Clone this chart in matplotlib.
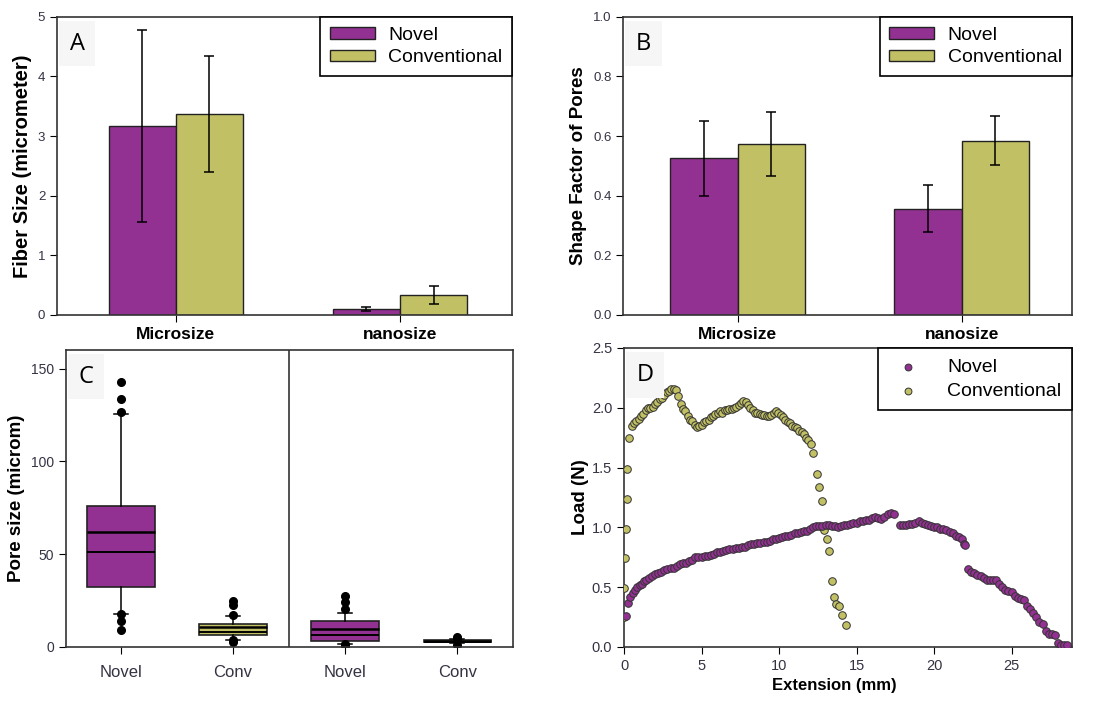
import matplotlib
matplotlib.use('Agg')
import matplotlib.pyplot as plt

#------------------------------------------------------------------------------
# data

groups = ['Microsize', 'nanosize']

fiber_novel     = [3.17, 0.10]
fiber_novel_err = [1.61, 0.04]
fiber_conv      = [3.37, 0.34]
fiber_conv_err  = [0.98, 0.15]

shape_novel     = [0.525, 0.357]
shape_novel_err = [0.125, 0.080]
shape_conv      = [0.573, 0.585]
shape_conv_err  = [0.108, 0.081]

box_labels = ['Novel', 'Conv', 'Novel', 'Conv']
box_q1     = [32.5, 6.5, 3.0, 2.6]
box_med    = [62.0, 10.8, 9.7, 3.2]
box_mean   = [51.0, 8.2, 6.6, 2.9]
box_q3     = [76.0, 12.5, 14.2, 3.5]
box_lo     = [17.6, 4.0, 1.6, 2.2]
box_hi     = [125.7, 16.5, 18.3, 4.2]
box_fliers = [[142.5, 133.8, 126.5, 17.6, 13.8, 9.3],
              [24.6, 22.5, 17.4, 3.5, 2.7],
              [27.5, 24.0, 20.5, 1.4, 0.6],
              [5.5, 4.6, 1.2]]

novel_x = [0.10, 0.25, 0.40, 0.55, 0.70, 0.85, 1.00, 1.15, 1.30, 1.45,
           1.60, 1.80, 2.00, 2.20, 2.40, 2.60, 2.80, 3.00, 3.20, 3.40,
           3.60, 3.80, 4.00, 4.20, 4.40, 4.60, 4.80, 5.00, 5.20, 5.40,
           5.60, 5.80, 6.00, 6.20, 6.40, 6.60, 6.80, 7.00, 7.20, 7.40,
           7.60, 7.80, 8.00, 8.20, 8.40, 8.60, 8.80, 9.00, 9.20, 9.40,
           9.60, 9.80, 10.0, 10.2, 10.4, 10.6, 10.8, 11.0, 11.2, 11.4,
           11.6, 11.8, 12.0, 12.2, 12.4, 12.6, 12.8, 13.0, 13.2, 13.4,
           13.6, 13.8, 14.0, 14.2, 14.4, 14.6, 14.8, 15.0, 15.2, 15.4,
           15.6, 15.8, 16.0, 16.2, 16.4, 16.6, 16.8, 17.0, 17.2, 17.4,
           17.8, 18.0, 18.2, 18.4, 18.6, 18.8, 19.0, 19.2, 19.4, 19.6,
           19.8, 20.0, 20.2, 20.4, 20.6, 20.8, 21.0, 21.2, 21.4, 21.6,
           21.8, 21.9, 22.0, 22.2, 22.4, 22.6, 22.8, 23.0, 23.2, 23.4,
           23.6, 23.8, 24.0, 24.2, 24.4, 24.6, 24.8, 25.0, 25.2, 25.4,
           25.6, 25.8, 26.0, 26.2, 26.4, 26.6, 26.8, 27.0, 27.2, 27.4,
           27.6, 27.8, 28.0, 28.2, 28.4, 28.6]
novel_y = [0.26, 0.37, 0.42, 0.45, 0.48, 0.50, 0.52, 0.53, 0.55, 0.56,
           0.58, 0.59, 0.61, 0.62, 0.63, 0.64, 0.65, 0.66, 0.66, 0.68,
           0.69, 0.70, 0.70, 0.72, 0.73, 0.75, 0.75, 0.75, 0.76, 0.76,
           0.77, 0.78, 0.79, 0.79, 0.80, 0.81, 0.82, 0.82, 0.83, 0.83,
           0.84, 0.84, 0.85, 0.86, 0.86, 0.87, 0.87, 0.88, 0.88, 0.89,
           0.90, 0.90, 0.91, 0.92, 0.93, 0.93, 0.94, 0.95, 0.95, 0.96,
           0.97, 0.97, 0.99, 1.00, 1.01, 1.01, 1.01, 1.02, 1.02, 1.01,
           1.01, 1.00, 1.01, 1.02, 1.02, 1.03, 1.04, 1.04, 1.05, 1.05,
           1.06, 1.06, 1.08, 1.09, 1.08, 1.07, 1.09, 1.11, 1.12, 1.11,
           1.02, 1.02, 1.02, 1.03, 1.03, 1.04, 1.05, 1.04, 1.03, 1.02,
           1.01, 1.00, 1.00, 0.99, 0.99, 0.98, 0.96, 0.95, 0.93, 0.92,
           0.90, 0.86, 0.85, 0.65, 0.63, 0.62, 0.60, 0.59, 0.58, 0.56,
           0.56, 0.56, 0.56, 0.53, 0.50, 0.48, 0.47, 0.46, 0.43, 0.41,
           0.40, 0.39, 0.34, 0.32, 0.28, 0.25, 0.21, 0.19, 0.13, 0.11,
           0.11, 0.10, 0.03, 0.02, 0.02, 0.02]

conv_x = [0.00, 0.03, 0.05, 0.10, 0.18, 0.22, 0.35, 0.50, 0.65, 0.80,
          0.95, 1.10, 1.25, 1.40, 1.55, 1.70, 1.85, 2.00, 2.15, 2.30,
          2.45, 2.60, 2.75, 2.90, 3.05, 3.20, 3.35, 3.50, 3.65, 3.80,
          3.95, 4.10, 4.25, 4.40, 4.55, 4.70, 4.85, 5.00, 5.15, 5.30,
          5.45, 5.60, 5.75, 5.90, 6.05, 6.20, 6.35, 6.50, 6.65, 6.80,
          6.95, 7.10, 7.25, 7.40, 7.55, 7.70, 7.85, 8.00, 8.15, 8.30,
          8.45, 8.60, 8.75, 8.90, 9.05, 9.20, 9.35, 9.50, 9.65, 9.80,
          9.95, 10.10, 10.25, 10.40, 10.55, 10.70, 10.85, 11.00, 11.15, 11.30,
          11.45, 11.60, 11.75, 11.90, 12.05, 12.20, 12.45, 12.60, 12.75, 12.90,
          13.10, 13.25, 13.40, 13.55, 13.70, 13.85, 14.05, 14.30]
conv_y = [0.25, 0.49, 0.74, 0.99, 1.24, 1.49, 1.75, 1.85, 1.87, 1.89,
          1.91, 1.93, 1.95, 1.98, 2.00, 2.00, 2.01, 2.03, 2.05, 2.07,
          2.08, 2.11, 2.13, 2.14, 2.16, 2.16, 2.15, 2.10, 2.03, 1.99,
          1.97, 1.93, 1.90, 1.89, 1.86, 1.84, 1.85, 1.86, 1.88, 1.89,
          1.90, 1.92, 1.93, 1.95, 1.96, 1.97, 1.96, 1.98, 1.98, 1.99,
          1.99, 2.00, 2.01, 2.02, 2.04, 2.06, 2.05, 2.02, 2.00, 1.98,
          1.96, 1.96, 1.95, 1.94, 1.94, 1.93, 1.93, 1.94, 1.96, 1.97,
          1.96, 1.94, 1.92, 1.90, 1.88, 1.87, 1.85, 1.84, 1.83, 1.81,
          1.80, 1.78, 1.75, 1.73, 1.70, 1.62, 1.45, 1.34, 1.22, 0.98,
          0.90, 0.80, 0.55, 0.42, 0.36, 0.34, 0.27, 0.18]

#------------------------------------------------------------------------------
# style

purple = '#933192'
olive  = '#c2c064'
tickc  = '#333344'

plt.rcParams['font.family'] = ['Liberation Sans', 'DejaVu Sans']
plt.rcParams['axes.linewidth'] = 1.2
plt.rcParams['axes.edgecolor'] = '#333333'


def panel_label(ax, letter):
    ax.text(0.028, 0.95, letter, transform=ax.transAxes, fontsize=17,
            family='Open Sans', va='top', ha='left', zorder=5,
            bbox=dict(boxstyle='square,pad=0.45', fc='#f6f6f6', ec='none'))


def bar_panel(ax, novel, novel_err, conv, conv_err, ylim, yticks, ylabel, ylsize):
    pos = range(len(groups))
    ekw = dict(elinewidth=1.1, capthick=1.1)
    ax.bar([p - 0.3 for p in pos], novel, width=0.3, align='edge', color=purple,
           edgecolor='#222222', linewidth=1.0, label='Novel')
    ax.bar(pos, conv, width=0.3, align='edge', color=olive,
           edgecolor='#222222', linewidth=1.0, label='Conventional')
    ax.errorbar([p - 0.15 for p in pos], novel, yerr=novel_err, fmt='none',
                ecolor='black', capsize=3.5, **ekw)
    ax.errorbar([p + 0.15 for p in pos], conv, yerr=conv_err, fmt='none',
                ecolor='black', capsize=3.5, **ekw)
    ax.set_xlim(-0.53, 1.5)
    ax.set_ylim(*ylim)
    ax.set_yticks(yticks)
    ax.set_xticks(list(pos))
    ax.set_xticklabels(groups, fontsize=12.5, fontweight='bold')
    ax.tick_params(axis='x', direction='out', length=5, pad=4)
    ax.tick_params(axis='y', direction='out', length=5, labelsize=9.5, labelcolor=tickc)
    ax.set_ylabel(ylabel, fontsize=ylsize, fontweight='bold', labelpad=4)
    leg = ax.legend(loc='upper right', bbox_to_anchor=(1.0, 1.0), borderaxespad=0,
                    fontsize=14, fancybox=False, edgecolor='black',
                    handlelength=2.3, handleheight=0.55, framealpha=1,
                    borderpad=0.5, labelspacing=0.3, handletextpad=0.7)
    leg.get_frame().set_linewidth(1.2)


fig = plt.figure(figsize=(11.07, 7.03), dpi=100)

#------------------------------------------------------------------------------
# A

axA = fig.add_axes([0.0515, 0.552, 0.411, 0.424])
bar_panel(axA, fiber_novel, fiber_novel_err, fiber_conv, fiber_conv_err,
          (0, 5), [0, 1, 2, 3, 4, 5], 'Fiber Size (micrometer)', 14.5)
panel_label(axA, 'A')

#------------------------------------------------------------------------------
# B

axB = fig.add_axes([0.563, 0.552, 0.405, 0.424])
bar_panel(axB, shape_novel, shape_novel_err, shape_conv, shape_conv_err,
          (0, 1), [0, 0.2, 0.4, 0.6, 0.8, 1.0], 'Shape Factor of Pores', 13.5)
axB.set_xlim(-0.51, 1.49)
axB.set_yticklabels(['0.0', '0.2', '0.4', '0.6', '0.8', '1.0'])
panel_label(axB, 'B')

#------------------------------------------------------------------------------
# C

axC = fig.add_axes([0.0596, 0.0797, 0.404, 0.4225])
stats = []
for i in range(len(box_labels)):
    stats.append(dict(label=box_labels[i], q1=box_q1[i], med=box_med[i], mean=box_mean[i],
                      q3=box_q3[i], whislo=box_lo[i], whishi=box_hi[i],
                      fliers=box_fliers[i]))
bp = axC.bxp(stats, positions=[0, 1, 2, 3], widths=0.6, patch_artist=True,
             showmeans=True, meanline=True, capwidths=0.12,
             boxprops=dict(edgecolor='#222222', linewidth=1.2),
             medianprops=dict(color='black', linewidth=1.8),
             meanprops=dict(color='black', linewidth=1.4, linestyle='-'),
             whiskerprops=dict(color='black', linewidth=1.1),
             capprops=dict(color='black', linewidth=1.1),
             flierprops=dict(marker='o', markerfacecolor='black',
                             markeredgecolor='black', markersize=5.5))
for patch, c in zip(bp['boxes'], [purple, olive, purple, olive]):
    patch.set_facecolor(c)
axC.axvline(1.5, color='#222222', linewidth=1.1)
axC.set_xlim(-0.49, 3.5)
axC.set_ylim(0, 160)
axC.set_yticks([0, 50, 100, 150])
axC.tick_params(axis='x', direction='out', length=5, labelsize=12, labelcolor=tickc, pad=8)
axC.tick_params(axis='y', direction='out', length=5, labelsize=10, labelcolor=tickc)
axC.set_ylabel('Pore size (microm)', fontsize=13.5, fontweight='bold')
panel_label(axC, 'C')

#------------------------------------------------------------------------------
# D

axD = fig.add_axes([0.5637, 0.0797, 0.4047, 0.4253])
axD.scatter(conv_x, conv_y, s=30, color=olive, edgecolor='#333333', linewidth=0.7,
            label='Conventional', zorder=3)
axD.scatter(novel_x, novel_y, s=30, color=purple, edgecolor='#333333', linewidth=0.7,
            label='Novel', zorder=3)
axD.set_xlim(0, 28.9)
axD.set_ylim(0, 2.5)
axD.set_xticks([0, 5, 10, 15, 20, 25])
axD.set_yticks([0, 0.5, 1.0, 1.5, 2.0, 2.5])
axD.set_yticklabels(['0.0', '0.5', '1.0', '1.5', '2.0', '2.5'])
axD.tick_params(direction='out', length=5, labelsize=10.5, labelcolor=tickc)
axD.set_xlabel('Extension (mm)', fontsize=12, fontweight='bold')
axD.xaxis.set_label_coords(0.47, -0.105)
axD.set_ylabel('Load (N)', fontsize=13.5, fontweight='bold', labelpad=2)
h, l = axD.get_legend_handles_labels()
leg = axD.legend(h[::-1], l[::-1], loc='upper right', bbox_to_anchor=(1.0, 1.0),
                 borderaxespad=0, fontsize=14, fancybox=False, edgecolor='black',
                 framealpha=1, markerscale=0.9, handletextpad=1.0,
                 borderpad=0.55, labelspacing=0.3)
leg.get_frame().set_linewidth(1.2)
panel_label(axD, 'D')

plt.savefig('out.png', dpi=100)
